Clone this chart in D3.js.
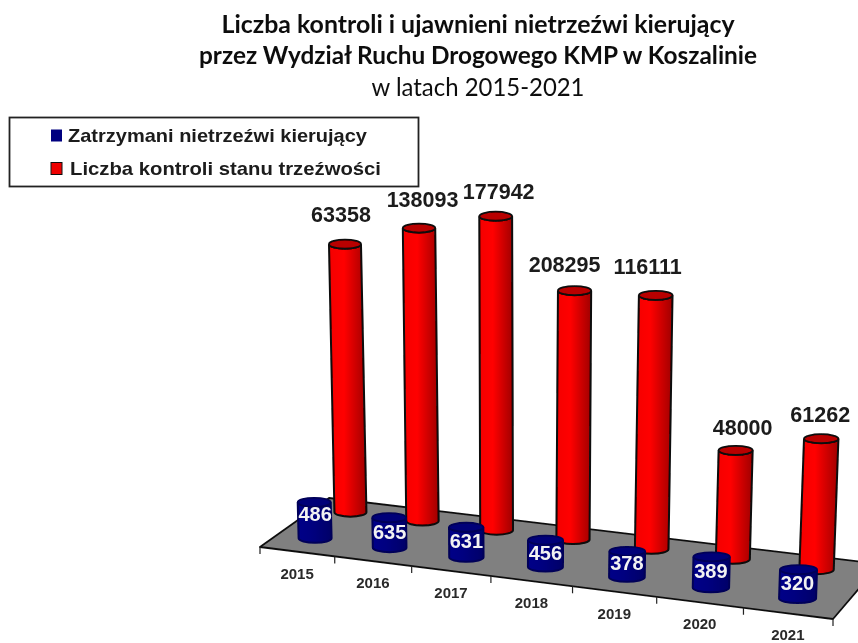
<!DOCTYPE html>
<html>
<head>
<meta charset="utf-8">
<script src="https://cdn.jsdelivr.net/npm/d3@7"></script>
<style>
  html, body { margin: 0; padding: 0; background: #fff; }
  svg { display: block; }
</style>
</head>
<body>
<script>
// Values printed in the chart
const years = ["2015", "2016", "2017", "2018", "2019", "2020", "2021"];
const kontrole = [63358, 138093, 177942, 208295, 116111, 48000, 61262];
const zatrzymani = [486, 635, 631, 456, 378, 389, 320];

// The drawn column heights do not follow the printed values, so they are read off the picture
const kontroleHeight = [268, 293, 314, 249, 254, 109, 131];
const zatrzymaniHeight = [36, 30, 30, 27, 26, 31, 29];

const legendItems = ["Zatrzymani nietrzeźwi kierujący", "Liczba kontroli stanu trzeźwości"];

const width = 858;
const height = 643;

const svg = d3.select("body")
  .append("svg")
  .attr("width", width)
  .attr("height", height);

// Gradients for the cylinder sides
const defs = svg.append("defs");
function sideGradient(id, stops) {
  const g = defs.append("linearGradient").attr("id", id);
  stops.forEach(s => g.append("stop").attr("offset", s[0]).attr("stop-color", s[1]));
}
sideGradient("redSide", [[0, "#f40000"], [0.4, "#ff0000"], [1, "#a00000"]]);
sideGradient("blueSide", [[0, "#000088"], [0.4, "#000080"], [1, "#000068"]]);

defs.append("filter").attr("id", "soft")
  .append("feGaussianBlur").attr("stdDeviation", 0.6);

const root = svg.append("g").attr("filter", "url(#soft)");

// Floor scales: front edge, back edge, and a warp for the perspective along the years
const frontX = d3.scaleLinear().domain([0, 1]).range([260, 833]);
const frontY = d3.scaleLinear().domain([0, 1]).range([547, 619]);
const backX = d3.scaleLinear().domain([0, 1]).range([329, 866]);
const backY = d3.scaleLinear().domain([0, 1]).range([498, 564]);
const yearPos = d3.scaleLinear().domain([0, years.length]).range([0, 1]);
const warp = u => 0.9 * u / (1 - 0.1 * u);
const depthBlue = 0.27;
const depthRed = 0.8;
const columnHeight = d3.scaleLinear().domain([0, 320]).range([0, 320]);

function floorPoint(yearIndex, depth) {
  const t = warp(yearPos(yearIndex));
  return {
    x: frontX(t) + (backX(t) - frontX(t)) * depth,
    y: frontY(t) + (backY(t) - frontY(t)) * depth
  };
}

// Floor (runs off the right side of the picture)
root.append("polygon")
  .attr("points", [
    [frontX(0), frontY(0)], [frontX(1), frontY(1)],
    [880, 564], [backX(0), backY(0)]
  ].join(" "))
  .attr("fill", "#808080")
  .attr("stroke", "#111")
  .attr("stroke-width", 1.8)
  .attr("stroke-linejoin", "round");

// Ticks on the front edge
root.selectAll(".tick")
  .data(d3.range(years.length + 1))
  .enter()
  .append("line")
  .attr("x1", d => floorPoint(d, 0).x)
  .attr("x2", d => floorPoint(d, 0).x)
  .attr("y1", d => floorPoint(d, 0).y)
  .attr("y2", d => floorPoint(d, 0).y + 7)
  .attr("stroke", "#222")
  .attr("stroke-width", 1.2);

// Year labels
root.selectAll(".year")
  .data(years)
  .enter()
  .append("text")
  .attr("x", (d, i) => floorPoint(i + 0.5, 0).x)
  .attr("y", (d, i) => floorPoint(i + 0.5, 0).y + 27)
  .attr("text-anchor", "middle")
  .attr("font-family", "Liberation Sans")
  .attr("font-weight", "bold")
  .attr("font-size", 15)
  .attr("fill", "#2a2a2a")
  .text(d => d);

// Cylinder with the top shifted a little, the verticals lean away from x=520
function cylinder(d) {
  const ry = 4.5;
  const bx = d.base.x;
  const by = d.base.y;
  const tx = bx + (bx - 520) * 0.00012 * d.h;
  const ty = by - d.h;
  return {
    tx, ty, ry,
    side: "M" + (tx - d.rx) + "," + ty +
      "L" + (bx - d.rx) + "," + by +
      "A" + d.rx + "," + ry + " 0 0 0 " + (bx + d.rx) + "," + by +
      "L" + (tx + d.rx) + "," + ty +
      "A" + d.rx + "," + ry + " 0 0 1 " + (tx - d.rx) + "," + ty + "Z"
  };
}

function drawColumns(heights, depth, rx, sideFill, topFill, line) {
  const data = heights.map((h, i) => {
    const d = { h: columnHeight(h), base: floorPoint(i + 0.5, depth), rx: rx(i) };
    d.c = cylinder(d);
    return d;
  });
  const g = root.selectAll(null).data(data).enter().append("g");
  g.append("path")
    .attr("d", d => d.c.side)
    .attr("fill", sideFill)
    .attr("stroke", line)
    .attr("stroke-width", 2);
  g.append("ellipse")
    .attr("cx", d => d.c.tx)
    .attr("cy", d => d.c.ty)
    .attr("rx", d => d.rx)
    .attr("ry", d => d.c.ry)
    .attr("fill", topFill)
    .attr("stroke", line)
    .attr("stroke-width", 1.8);
  return data;
}

const redRadius = d3.scaleLinear().domain([0, 6]).range([16, 17.2]);
const blueRadius = d3.scaleLinear().domain([0, 6]).range([16.5, 18.5]);

const reds = drawColumns(kontroleHeight, depthRed, redRadius, "url(#redSide)", "#b80000", "#0a0a0a");
const blues = drawColumns(zatrzymaniHeight, depthBlue, blueRadius, "url(#blueSide)", "#000078", "#000058");

// Labels over the red columns, nudged as in the picture
const labelNudgeX = [-4, 3.5, 3, -10, -8, 7, -1];
const labelNudgeY = [-2, -1, 3, 1, -1, 5, 3];
root.selectAll(".kontrole")
  .data(kontrole)
  .enter()
  .append("text")
  .attr("x", (d, i) => reds[i].c.tx + labelNudgeX[i])
  .attr("y", (d, i) => reds[i].c.ty - 20 + labelNudgeY[i])
  .attr("text-anchor", "middle")
  .attr("font-family", "Liberation Sans")
  .attr("font-weight", "bold")
  .attr("font-size", 21.5)
  .attr("fill", "#1a1a1a")
  .text(d => d);

// Labels on the blue columns
root.selectAll(".zatrzymani")
  .data(zatrzymani)
  .enter()
  .append("text")
  .attr("x", (d, i) => blues[i].base.x)
  .attr("y", (d, i) => blues[i].base.y - blues[i].h / 2 + (i ? 6 : 1))
  .attr("text-anchor", "middle")
  .attr("font-family", "Liberation Sans")
  .attr("font-weight", "bold")
  .attr("font-size", 20)
  .attr("fill", "#f2f2f2")
  .text(d => d);

// Title
const titleLines = [
  { text: "Liczba kontroli i ujawnieni nietrzeźwi kierujący", y: 33, w: 513, bold: true },
  { text: "przez Wydział Ruchu Drogowego KMP w Koszalinie", y: 64, w: 558, bold: true },
  { text: "w latach 2015-2021", y: 96, w: 213, bold: false }
];
root.selectAll(".title")
  .data(titleLines)
  .enter()
  .append("text")
  .attr("x", 478)
  .attr("y", d => d.y)
  .attr("text-anchor", "middle")
  .attr("font-family", "Lato")
  .attr("font-weight", d => d.bold ? "bold" : "normal")
  .attr("font-size", 25)
  .attr("textLength", d => d.w)
  .attr("lengthAdjust", "spacingAndGlyphs")
  .attr("fill", "#111")
  .text(d => d.text);

// Legend
root.append("rect")
  .attr("x", 9.5)
  .attr("y", 117.5)
  .attr("width", 409)
  .attr("height", 69)
  .attr("fill", "#fff")
  .attr("stroke", "#222")
  .attr("stroke-width", 1.8);

const legendColors = d3.scaleOrdinal().domain(legendItems).range(["#000080", "#ee0000"]);
const legendRow = d3.scaleBand().domain(legendItems).range([119, 185]);
const legendText = d3.scaleOrdinal().domain(legendItems).range([299, 311]);

const legend = root.selectAll(".legend")
  .data(legendItems)
  .enter()
  .append("g");
legend.append("rect")
  .attr("x", 51)
  .attr("y", d => legendRow(d) + legendRow.bandwidth() / 2 - 6)
  .attr("width", 11)
  .attr("height", 12)
  .attr("fill", legendColors)
  .attr("stroke", (d, i) => i ? "#111" : "none");
legend.append("text")
  .attr("x", (d, i) => i ? 70 : 68)
  .attr("y", d => legendRow(d) + legendRow.bandwidth() / 2 + 6.5)
  .attr("font-family", "Liberation Sans")
  .attr("font-weight", "bold")
  .attr("font-size", 19)
  .attr("textLength", legendText)
  .attr("lengthAdjust", "spacingAndGlyphs")
  .attr("fill", "#1a1a1a")
  .text(d => d);
</script>
</body>
</html>
